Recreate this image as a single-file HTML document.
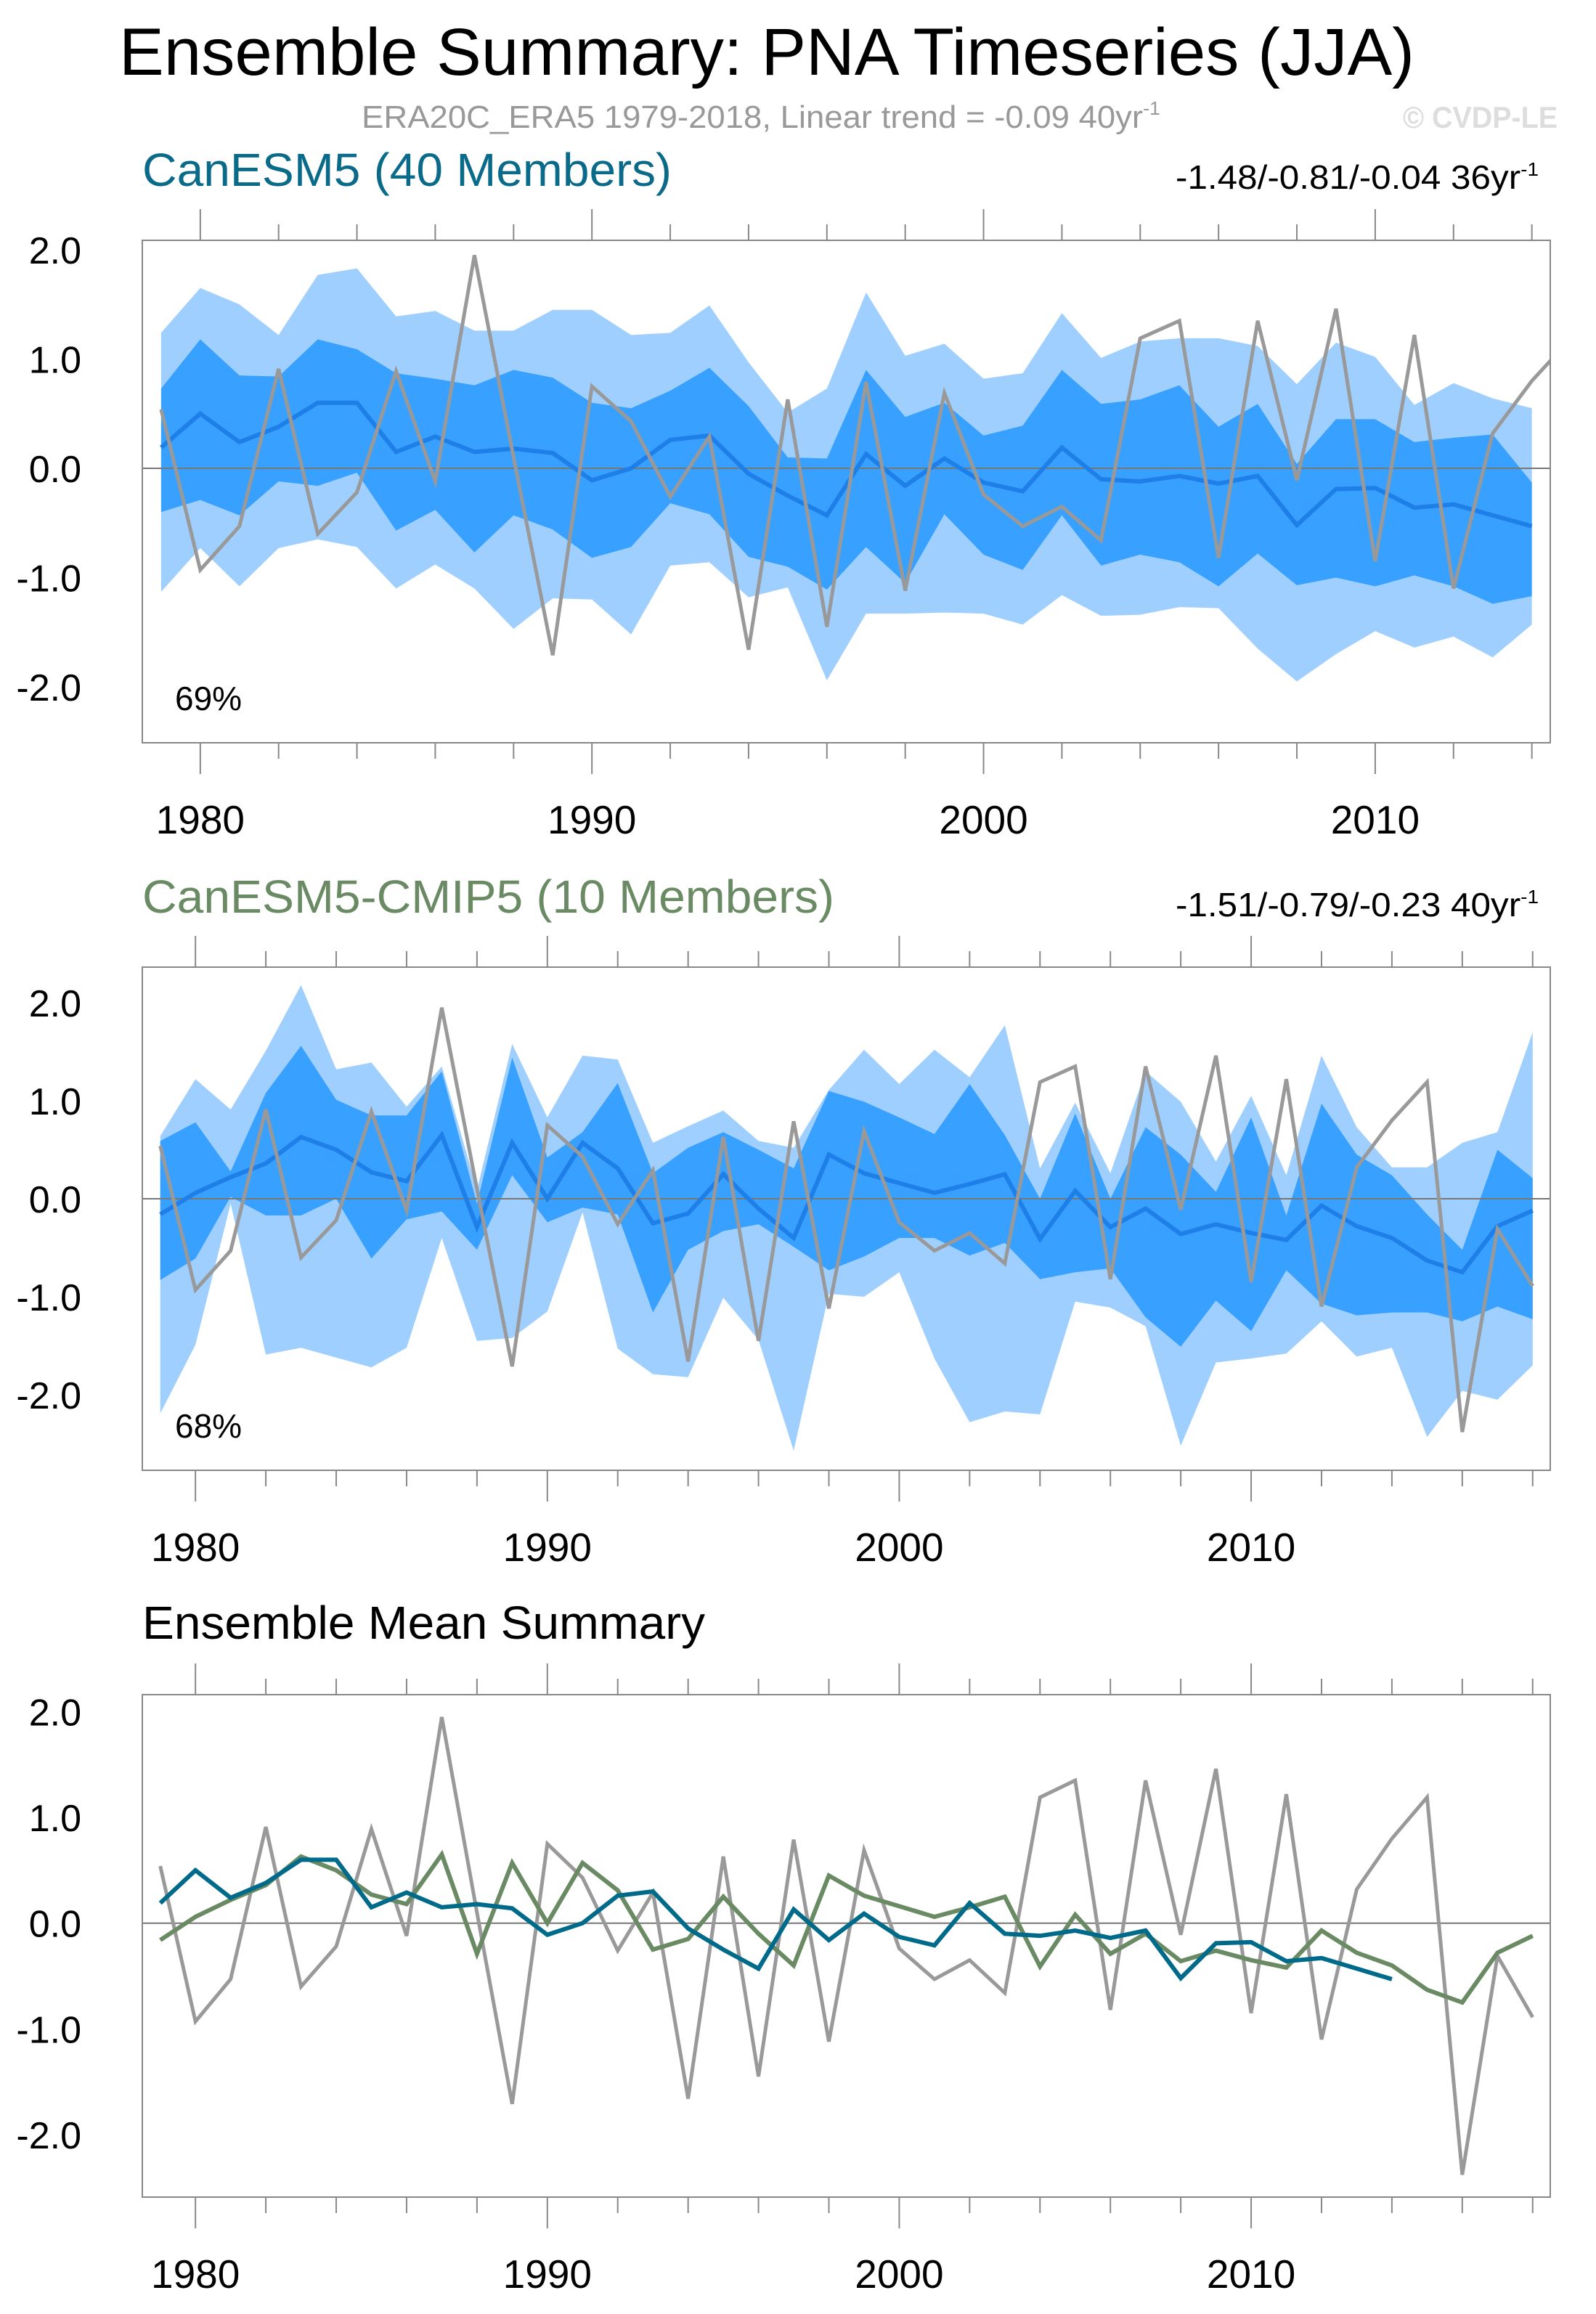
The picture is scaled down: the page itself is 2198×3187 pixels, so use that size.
<!DOCTYPE html>
<html><head><meta charset="utf-8"><style>
html,body{margin:0;padding:0;background:#fff;}
svg{display:block;font-family:"Liberation Sans",sans-serif;}
</style></head><body>
<svg id="chart" width="2198" height="3187" viewBox="0 0 2198 3187" xmlns="http://www.w3.org/2000/svg">
<rect width="2198" height="3187" fill="#fff"/>
<text x="164" y="103" font-size="92" textLength="1784" lengthAdjust="spacingAndGlyphs" fill="#000">Ensemble Summary: PNA Timeseries (JJA)</text>
<text x="498" y="176" font-size="44" textLength="1100" lengthAdjust="spacingAndGlyphs" fill="#999">ERA20C_ERA5 1979-2018, Linear trend = -0.09 40yr<tspan dy="-18" font-size="26">-1</tspan></text>
<text x="1932" y="176" font-size="42" font-weight="bold" textLength="213" lengthAdjust="spacingAndGlyphs" fill="#ddd">© CVDP-LE</text>
<text x="196" y="256" font-size="64" textLength="729" lengthAdjust="spacingAndGlyphs" fill="#0a6a8a">CanESM5 (40 Members)</text>
<text x="1619" y="260" font-size="46" textLength="500" lengthAdjust="spacingAndGlyphs" fill="#000">-1.48/-0.81/-0.04 36yr<tspan dy="-18" font-size="26">-1</tspan></text>
<text x="196" y="1257" font-size="64" textLength="953" lengthAdjust="spacingAndGlyphs" fill="#6a8a64">CanESM5-CMIP5 (10 Members)</text>
<text x="1619" y="1262" font-size="46" textLength="500" lengthAdjust="spacingAndGlyphs" fill="#000">-1.51/-0.79/-0.23 40yr<tspan dy="-18" font-size="26">-1</tspan></text>
<text x="196" y="2257" font-size="64" textLength="775" lengthAdjust="spacingAndGlyphs" fill="#000">Ensemble Mean Summary</text>
<g id="p1"></g><g id="p2"></g><g id="p3"></g>
</svg>
<script>
const obsYears = [1979,1980,1981,1982,1983,1984,1985,1986,1987,1988,1989,1990,1991,1992,1993,1994,1995,1996,1997,1998,1999,2000,2001,2002,2003,2004,2005,2006,2007,2008,2009,2010,2011,2012,2013,2014,2015,2016,2017,2018];
const obsValues = [0.54,-0.93,-0.53,0.91,-0.60,-0.22,0.89,-0.12,1.95,0.10,-1.71,0.75,0.43,-0.26,0.29,-1.66,0.63,-1.45,0.79,-1.12,0.69,-0.24,-0.53,-0.35,-0.66,1.19,1.35,-0.82,1.35,-0.11,1.46,-0.85,1.22,-1.10,0.32,0.80,1.19,-2.38,-0.31,-0.89];

const m1Years = [1979,1980,1981,1982,1983,1984,1985,1986,1987,1988,1989,1990,1991,1992,1993,1994,1995,1996,1997,1998,1999,2000,2001,2002,2003,2004,2005,2006,2007,2008,2009,2010,2011,2012,2013,2014];
const m1Mean = [0.19,0.50,0.24,0.38,0.60,0.60,0.15,0.29,0.15,0.18,0.14,-0.11,0.00,0.26,0.30,-0.05,-0.25,-0.43,0.13,-0.16,0.09,-0.13,-0.21,0.19,-0.10,-0.12,-0.07,-0.14,-0.07,-0.52,-0.19,-0.18,-0.36,-0.33,-0.43,-0.53];
const m1OuterTop = [1.24,1.65,1.50,1.22,1.77,1.83,1.39,1.44,1.26,1.26,1.45,1.45,1.22,1.24,1.49,0.97,0.51,0.73,1.61,1.03,1.14,0.82,0.87,1.42,1.01,1.16,1.19,1.19,1.12,0.77,1.15,1.02,0.58,0.78,0.64,0.55];
const m1InnerTop = [0.73,1.18,0.85,0.84,1.18,1.09,0.87,0.82,0.76,0.90,0.83,0.60,0.55,0.71,0.92,0.57,0.10,0.09,0.90,0.47,0.60,0.30,0.39,0.90,0.59,0.63,0.76,0.38,0.59,0.04,0.45,0.45,0.24,0.28,0.31,-0.13];
const m1InnerBot = [-0.40,-0.29,-0.43,-0.12,-0.16,-0.04,-0.57,-0.38,-0.77,-0.43,-0.56,-0.82,-0.72,-0.32,-0.42,-0.81,-0.90,-1.11,-0.72,-1.05,-0.42,-0.79,-0.93,-0.43,-0.89,-0.79,-0.86,-1.08,-0.78,-1.07,-1.00,-1.08,-0.98,-1.08,-1.24,-1.17];
const m1OuterBot = [-1.13,-0.73,-1.08,-0.73,-0.65,-0.72,-1.10,-0.88,-1.10,-1.47,-1.19,-1.20,-1.52,-0.89,-0.86,-1.18,-1.09,-1.94,-1.33,-1.33,-1.32,-1.33,-1.43,-1.16,-1.35,-1.34,-1.27,-1.28,-1.65,-1.95,-1.70,-1.49,-1.64,-1.54,-1.73,-1.43];

const m2Years = obsYears;
const m2Mean = [-0.16,0.06,0.22,0.36,0.63,0.50,0.27,0.18,0.65,-0.29,0.57,0.00,0.57,0.31,-0.25,-0.15,0.25,-0.10,-0.40,0.45,0.26,0.16,0.06,0.15,0.25,-0.41,0.08,-0.29,-0.10,-0.36,-0.26,-0.35,-0.42,-0.07,-0.28,-0.40,-0.63,-0.75,-0.28,-0.12];
const m2OuterTop = [0.64,1.22,0.91,1.51,2.18,1.32,1.39,0.94,1.35,0.09,1.58,0.83,1.46,1.42,0.57,0.74,0.90,0.59,0.52,1.11,1.52,1.17,1.52,1.24,1.77,0.31,0.98,0.26,1.30,0.99,0.38,1.05,0.24,1.46,0.73,0.32,0.32,0.57,0.68,1.70];
const m2InnerTop = [0.59,0.78,0.28,1.08,1.56,1.01,0.85,0.85,1.30,-0.05,1.44,0.42,0.68,1.18,0.26,0.52,0.68,0.50,0.31,1.10,0.99,0.83,0.66,1.17,0.65,0.00,0.87,0.00,0.73,0.45,0.07,0.83,-0.17,0.97,0.45,0.24,-0.16,-0.52,0.50,0.21];
const m2InnerBot = [-0.83,-0.61,0.02,-0.17,-0.17,0.00,-0.61,-0.21,-0.13,-0.52,0.24,-0.24,-0.09,-0.16,-1.16,-0.52,-0.33,-0.26,-0.49,-0.73,-0.59,-0.40,-0.40,-0.58,-0.45,-0.82,-0.75,-0.71,-1.21,-1.51,-1.04,-1.35,-0.73,-1.07,-1.19,-1.16,-1.16,-1.25,-1.10,-1.23];
const m2OuterBot = [-2.19,-1.49,-0.05,-1.59,-1.52,-1.62,-1.72,-1.52,-0.40,-1.45,-1.42,-1.15,-0.14,-1.53,-1.79,-1.82,-1.01,-1.44,-2.57,-0.97,-1.00,-0.75,-1.63,-2.28,-2.17,-2.20,-1.05,-1.11,-1.30,-2.52,-1.67,-1.63,-1.58,-1.25,-1.61,-1.52,-2.43,-1.96,-2.05,-1.70];

const yTickLabels = ["-2.0","-1.0","0.0","1.0","2.0"];
const xTickLabels = ["1980","1990","2000","2010"];

const NS = "http://www.w3.org/2000/svg";
function mk(parent, tag, attrs){
  const e = document.createElementNS(NS, tag);
  for (const k in attrs) e.setAttribute(k, attrs[k]);
  parent.appendChild(e);
  return e;
}
function makePanel(id, cfg){
  const g = document.getElementById(id);
  const L=196, R=2135, T=cfg.top, B=cfg.bottom;
  const xs = y => L + (y - cfg.x0) / (cfg.x1 - cfg.x0) * (R - L);
  const ys = v => cfg.zero - v * cfg.unit;
  const yMin = (cfg.zero - B) / cfg.unit * -1, yMax = (cfg.zero - T) / cfg.unit;
  const clipId = id + "-clip";
  const defs = mk(g, "defs", {});
  const cp = mk(defs, "clipPath", {id: clipId});
  mk(cp, "rect", {x: L, y: T, width: R - L, height: B - T});
  const plot = mk(g, "g", {"clip-path": "url(#" + clipId + ")"});
  
  
  function band(years, top, bot, color, name){
    let pts = years.map((y,i)=>xs(y)+","+ys(top[i]));
    for (let i = years.length-1; i>=0; i--) pts.push(xs(years[i])+","+ys(bot[i]));
    const p = mk(plot, "polygon", {points: pts.join(" "), fill: color});
    
    
  }
  function line(years, vals, color, w, name){
    const p = mk(plot, "polyline", {points: years.map((y,i)=>xs(y)+","+ys(vals[i])).join(" "), fill: "none", stroke: color, "stroke-width": w, "stroke-linejoin": "miter"});
    
    
  }
  if (cfg.bands){
    band(cfg.years, cfg.oTop, cfg.oBot, "#9fcfff", id + "-outer-range-band");
    band(cfg.years, cfg.iTop, cfg.iBot, "#38a0ff", id + "-inner-range-band");
  }
  const z = mk(plot, "line", {x1: L, x2: R, y1: ys(0), y2: ys(0), stroke: "#777", "stroke-width": 2});
  
  
  cfg.lines.forEach(l => line(l.years, l.vals, l.color, l.w, l.name));
  // frame
  const fr = mk(g, "rect", {x: L, y: T, width: R - L, height: B - T, fill: "none", stroke: "#888", "stroke-width": 2});
  
  
  // y ticks
  for (let k = Math.ceil(yMin*5); k <= Math.floor(yMax*5); k++){
    const v = k/5, yy = ys(v), major = (k % 5 === 0);
    const len = major ? 42 : 22;
    mk(g, "line", {x1: L-len, x2: L, y1: yy, y2: yy, stroke: "#888", "stroke-width": 2});
    mk(g, "line", {x1: R, x2: R+len, y1: yy, y2: yy, stroke: "#888", "stroke-width": 2});
  }
  yTickLabels.forEach(s => {
    const t = mk(g, "text", {x: 112, y: ys(parseFloat(s)) + 19, "font-size": 52, "text-anchor": "end", fill: "#000"});
    t.textContent = s;
    
    
  });
  // x ticks
  for (let yr = 1980; yr <= cfg.x1; yr += 2){
    const xx = xs(yr), major = (yr % 10 === 0);
    const len = major ? 43 : 22;
    mk(g, "line", {x1: xx, x2: xx, y1: T-len, y2: T, stroke: "#888", "stroke-width": 2});
    mk(g, "line", {x1: xx, x2: xx, y1: B, y2: B+len, stroke: "#888", "stroke-width": 2});
  }
  xTickLabels.forEach(s => {
    const t = mk(g, "text", {x: xs(parseFloat(s)), y: B + 125, "font-size": 55, "text-anchor": "middle", fill: "#000"});
    t.textContent = s;
    
    
  });
  if (cfg.pct){
    const t = mk(g, "text", {x: 241, y: cfg.pctY, "font-size": 46, fill: "#000"});
    t.textContent = cfg.pct;
    
    
  }
}
makePanel("p1", {top:331, bottom:1023, zero:645, unit:150.5, x0:1978.52, x1:2014.47, bands:true,
  years:m1Years, oTop:m1OuterTop, oBot:m1OuterBot, iTop:m1InnerTop, iBot:m1InnerBot, pct:"69%", pctY:978,
  lines:[{years:m1Years, vals:m1Mean, color:"#1f7fe8", w:6, name:"p1-ensemble-mean-line"},
         {years:obsYears, vals:obsValues, color:"#999", w:5, name:"p1-observed-line"}]});
makePanel("p2", {top:1332, bottom:2025, zero:1651, unit:135, x0:1978.49, x1:2018.5, bands:true,
  years:m2Years, oTop:m2OuterTop, oBot:m2OuterBot, iTop:m2InnerTop, iBot:m2InnerBot, pct:"68%", pctY:1980,
  lines:[{years:m2Years, vals:m2Mean, color:"#1f7fe8", w:6, name:"p2-ensemble-mean-line"},
         {years:obsYears, vals:obsValues, color:"#999", w:5, name:"p2-observed-line"}]});
makePanel("p3", {top:2334, bottom:3026, zero:2648.7, unit:145.6, x0:1978.49, x1:2018.5, bands:false,
  lines:[{years:obsYears, vals:obsValues, color:"#999", w:5, name:"p3-observed-line"},
         {years:m2Years, vals:m2Mean, color:"#6a8a64", w:6, name:"p3-canesm5-cmip5-mean-line"},
         {years:m1Years, vals:m1Mean, color:"#006a8a", w:6, name:"p3-canesm5-mean-line"}]});
</script>
</body></html>
